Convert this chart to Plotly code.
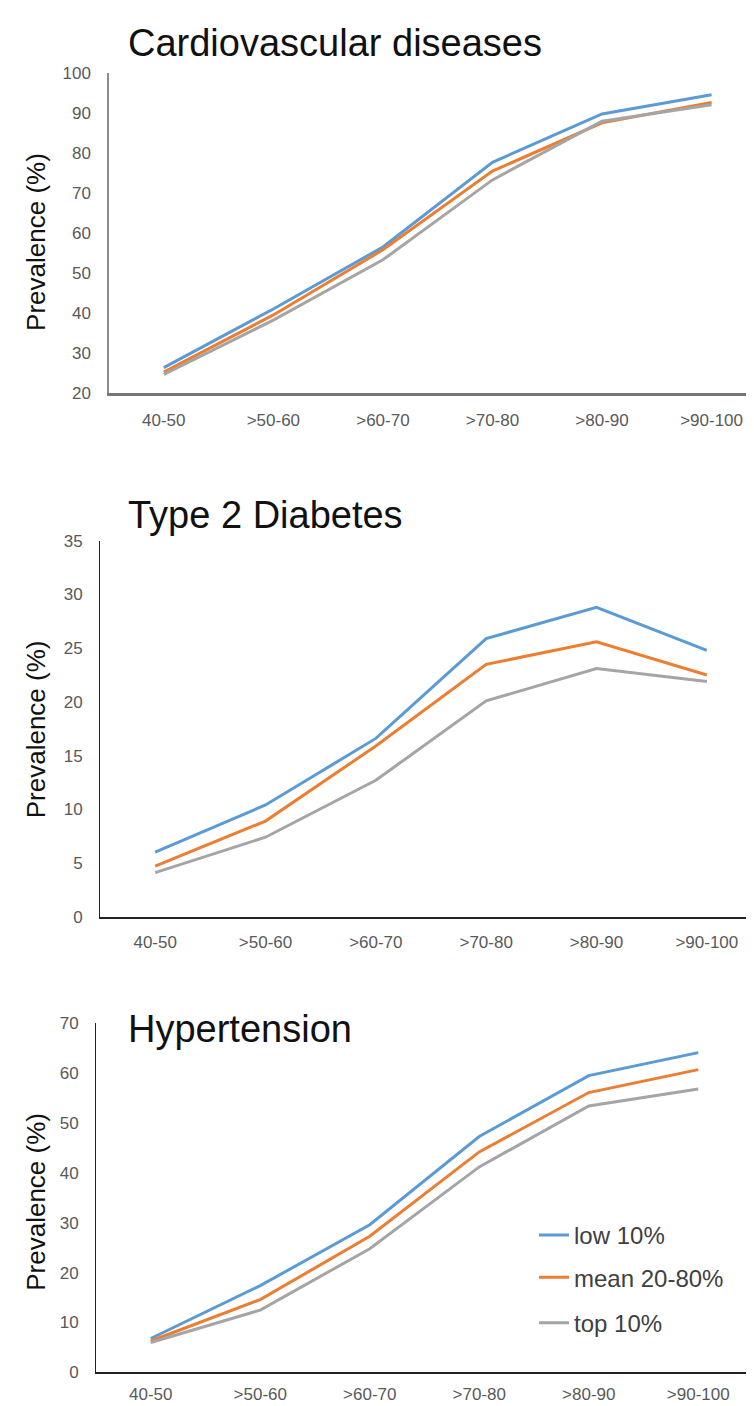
import plotly.graph_objects as go

W, H = 754, 1406

categories = ["40-50", ">50-60", ">60-70", ">70-80", ">80-90", ">90-100"]
series_names = ["low 10%", "mean 20-80%", "top 10%"]
series_colors = ["#5B9BD5", "#ED7D31", "#A5A5A5"]

cvd_low = [26.3, 41.0, 56.5, 77.7, 89.8, 94.6]
cvd_mean = [25.2, 39.5, 55.8, 75.5, 87.6, 92.7]
cvd_top = [24.6, 38.2, 53.3, 73.3, 88.0, 92.1]

t2d_low = [6.0, 10.4, 16.6, 25.9, 28.8, 24.8]
t2d_mean = [4.7, 8.9, 15.9, 23.5, 25.6, 22.5]
t2d_top = [4.1, 7.4, 12.7, 20.1, 23.1, 21.9]

htn_low = [6.8, 17.4, 29.6, 47.3, 59.5, 64.1]
htn_mean = [6.3, 14.6, 27.3, 44.2, 56.1, 60.7]
htn_top = [6.0, 12.5, 24.8, 41.2, 53.4, 56.8]

titles = ["Cardiovascular diseases", "Type 2 Diabetes", "Hypertension"]
y_ticks_cvd = [20, 30, 40, 50, 60, 70, 80, 90, 100]
y_ticks_t2d = [0, 5, 10, 15, 20, 25, 30, 35]
y_ticks_htn = [0, 10, 20, 30, 40, 50, 60, 70]


def px(x):
    return x / W


def py(y):
    return 1 - y / H


FONT = "Liberation Sans, Arial, Helvetica, sans-serif"

fig = go.Figure()

panels = [
    ([cvd_low, cvd_mean, cvd_top], "x", "y"),
    ([t2d_low, t2d_mean, t2d_top], "x2", "y2"),
    ([htn_low, htn_mean, htn_top], "x3", "y3"),
]
legend_ids = ["legend", "legend2", "legend3"]
for p, (vals, xa, ya) in enumerate(panels):
    for i, v in enumerate(vals):
        fig.add_trace(go.Scatter(
            x=categories, y=v, mode="lines", name=series_names[i],
            line=dict(color=series_colors[i], width=3),
            xaxis=xa, yaxis=ya,
            showlegend=(p == 2), legend=legend_ids[i],
        ))

tickfont = dict(family=FONT, size=17, color="#595959")


def xaxis(domain, rng, anchor, color, width, standoff):
    return dict(domain=domain, range=rng, anchor=anchor, type="category",
                showline=True, linecolor=color, linewidth=width,
                showgrid=False, zeroline=False, ticks="", tickfont=tickfont,
                ticklabelstandoff=standoff, fixedrange=True)


def yaxis(domain, rng, anchor, ticks, color, width):
    return dict(domain=domain, range=rng, anchor=anchor, tickvals=ticks,
                showline=True, linecolor=color, linewidth=width,
                showgrid=False, zeroline=False, ticks="", tickfont=tickfont,
                ticklabelstandoff=13, fixedrange=True)


legend_common = dict(font=dict(family=FONT, size=24, color="#404040"),
                     bgcolor="rgba(0,0,0,0)", xanchor="left", yanchor="middle",
                     itemwidth=30, tracegroupgap=0)

fig.update_layout(
    width=W, height=H, margin=dict(l=0, r=0, t=0, b=0),
    paper_bgcolor="white", plot_bgcolor="white",
    font=dict(family=FONT),
    xaxis=xaxis([px(101), 1], [-0.5, 5.46], "y", "#767676", 2.5, 10),
    yaxis=yaxis([py(381), py(57)], [20, 100], "x", y_ticks_cvd, "#8c8c8c", 1.5),
    xaxis2=xaxis([px(92), 1], [-0.5, 5.5], "y2", "#222222", 1.5, 9),
    yaxis2=yaxis([py(912), py(531)], [0, 35], "x2", y_ticks_t2d, "#222222", 1),
    xaxis3=xaxis([px(88), px(745)], [-0.5, 5.5], "y3", "#222222", 1.5, 5),
    yaxis3=yaxis([py(1374), py(1020)], [0, 70], "x3", y_ticks_htn, "#222222", 1),
    legend=dict(x=px(526), y=py(1235), **legend_common),
    legend2=dict(x=px(526), y=py(1278), **legend_common),
    legend3=dict(x=px(526), y=py(1324), **legend_common),
)

title_pos = [(118, 26), (118, 505), (118, 1026)]
for t, (x, y) in zip(titles, title_pos):
    fig.add_annotation(text=t, x=px(x), y=py(y), xref="paper", yref="paper",
                       xanchor="left", yanchor="middle", showarrow=False,
                       font=dict(family=FONT, size=38, color="#111111"))

ytitle_pos = [228, 722, 1201]
for y in ytitle_pos:
    fig.add_annotation(text="Prevalence (%)", x=px(28), y=py(y), xref="paper", yref="paper",
                       xanchor="center", yanchor="middle", showarrow=False, textangle=-90,
                       font=dict(family=FONT, size=26, color="#111111"))

fig.write_html("out.html")
